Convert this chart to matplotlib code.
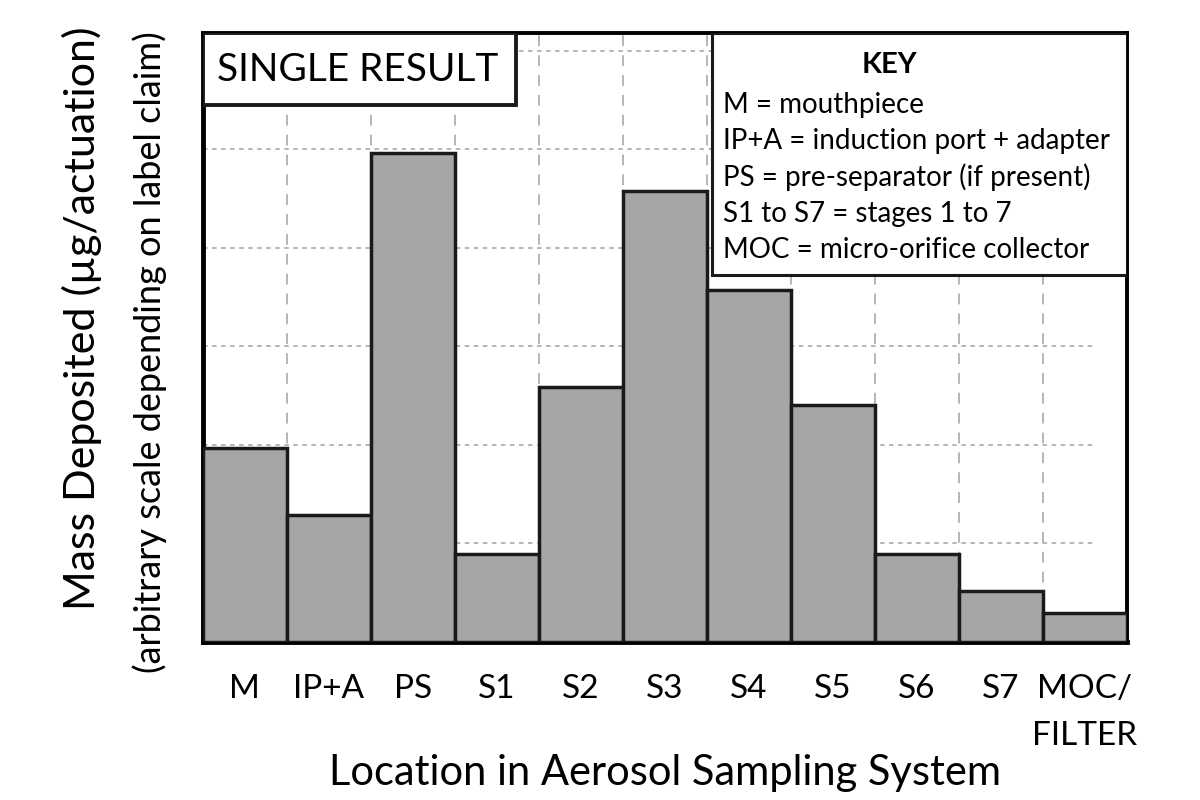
import matplotlib.pyplot as plt
from matplotlib.patches import Rectangle

locations = ['M', 'IP+A', 'PS', 'S1', 'S2', 'S3', 'S4', 'S5', 'S6', 'S7', 'MOC/\nFILTER']
mass = [1.97, 1.29, 4.96, 0.89, 2.59, 4.58, 3.57, 2.40, 0.89, 0.52, 0.29]
key_lines = ['M = mouthpiece',
             'IP+A = induction port + adapter',
             'PS = pre-separator (if present)',
             'S1 to S7 = stages 1 to 7',
             'MOC = micro-orifice collector']

plt.rcParams['font.family'] = ['Lato', 'DejaVu Sans']

fig = plt.figure(figsize=(12, 8), dpi=100)
ax = fig.add_axes([0.169, 0.1975, 0.77, 0.7615])

x = range(len(locations))
ax.bar(x, mass, width=1.0, color='#a6a6a6', edgecolor='#1a1a1a', linewidth=2.5, zorder=3)

# grid: dotted horizontals, dashed verticals at bar boundaries
for yv in range(1, 7):
    ax.axhline(yv, xmin=0, xmax=0.965, color='#b0b0b0', linestyle=(0, (2.5, 2.5)),
               linewidth=1.3, zorder=1)
for xv in range(len(locations) - 1):
    ax.axvline(xv + 0.5, color='#b0b0b0', linestyle=(0, (6, 5)), linewidth=1.3, zorder=1)

ax.set_xlim(-0.5, len(locations) - 0.5)
ax.set_ylim(0, 6.18)
ax.set_yticks([])
ax.set_xticks(list(x))
ax.set_xticklabels(locations, fontsize=24, linespacing=1.7, va='top')
ax.tick_params(axis='x', length=0, pad=23)

for side in ['left', 'bottom']:
    ax.spines[side].set_linewidth(3.5)
for side in ['top', 'right']:
    ax.spines[side].set_linewidth(2.8)

ax.set_xlabel('Location in Aerosol Sampling System', fontsize=30, labelpad=2)

fig.text(0.068, 0.6025, 'Mass Deposited (µg/actuation)', rotation=90,
         fontsize=31, ha='center', va='center')
fig.text(0.125, 0.56, '(arbitrary scale depending on label claim)', rotation=90,
         fontsize=26, ha='center', va='center')

# "SINGLE RESULT" box
ax.add_patch(Rectangle((0, 0.882), 0.339, 0.118, transform=ax.transAxes,
                       facecolor='white', edgecolor='#1a1a1a', linewidth=2.8, zorder=5))
ax.text(0.168, 0.939, 'SINGLE RESULT', transform=ax.transAxes, fontsize=28,
        ha='center', va='center', zorder=6)

# key box
ax.add_patch(Rectangle((0.551, 0.603), 0.449, 0.397, transform=ax.transAxes,
                       facecolor='white', edgecolor='#1a1a1a', linewidth=2.2, zorder=5))
ax.text(0.743, 0.947, 'KEY', transform=ax.transAxes, fontsize=21, fontweight='bold',
        ha='center', va='center', zorder=6)
for i, line in enumerate(key_lines):
    ax.text(0.563, 0.882 - i * 0.0598, line, transform=ax.transAxes, fontsize=20,
            ha='left', va='center', zorder=6)

fig.savefig('out.png', dpi=100, facecolor='white')
